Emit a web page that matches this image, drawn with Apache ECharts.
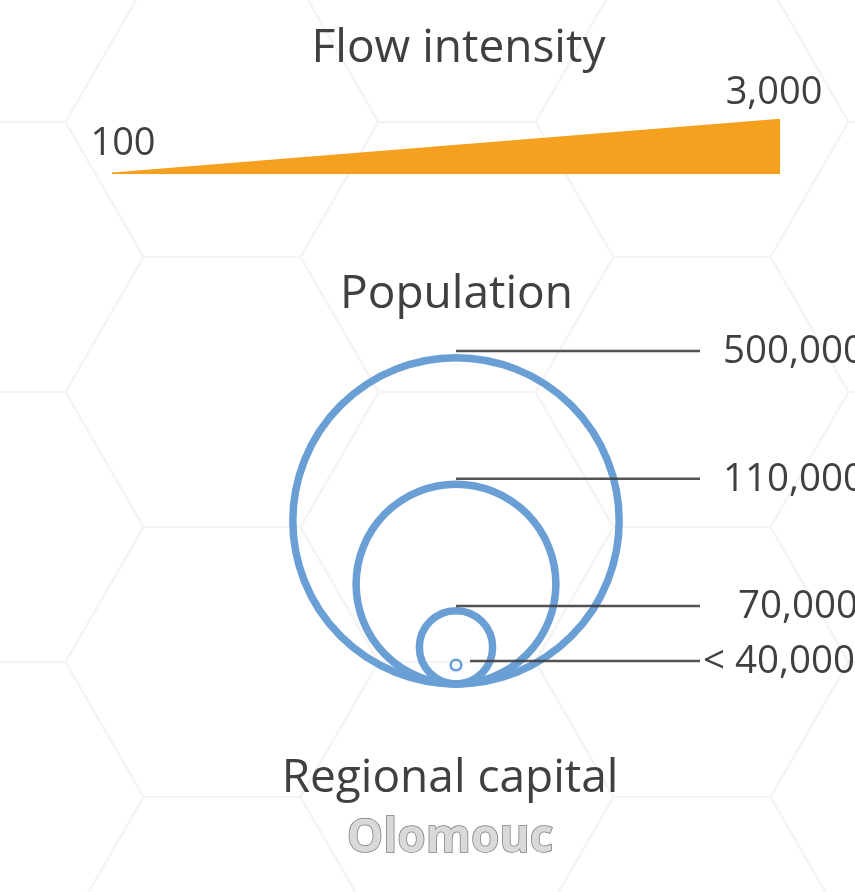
<!DOCTYPE html>
<html>
<head>
<meta charset="utf-8">
<script src="https://cdn.jsdelivr.net/npm/echarts@6/dist/echarts.min.js"></script>
<style>
html,body{margin:0;padding:0;background:#fff;}
#chart{width:855px;height:892px;}
</style>
</head>
<body>
<div id="chart"></div>
<script>
// ---- data ----
const flowTitle = 'Flow intensity';
const flowValues = [100, 3000];          // wedge thickness at each end
const flowPositions = [0, 1];            // start / end of the legend wedge
const popTitle = 'Population';
const popLabels = ['500,000', '110,000', '70,000', '< 40,000'];
const popCircleRadius = [49, 30.0, 11.0, 1.6];   // legend units (y scale)
const popCircleCenter = [49, 30.0, 11.0, 5.7];   // legend units (y scale)
const popLineLevel = [100, 61.6, 23.4, 6.9];     // leader line levels
const capitalTitle = 'Regional capital';
const capitalName = 'Olomouc';

// ---- styles ----
const FONT = "'Open Sans', sans-serif";
const TEXT = '#404040';
const ORANGE = '#F5A01F';
const BLUE = '#699FD5';
const flowLabelOffset = [[11, -28], [-6, -26]];
const popLabelGap = [23, 23, 38, 3];

// hexagon background grid (decoration)
const hexes = [];
const s = 156, h = 270;
for (let k = 0; k < 5; k++) {
  const xc = -13 + 235 * k;
  const y0 = (k % 2 === 0) ? 257 : 392;
  for (let n = -2; n < 5; n++) {
    const yc = y0 + h * n;
    hexes.push({
      type: 'polygon', silent: true, z: 0,
      shape: { points: [[xc - s, yc], [xc - s / 2, yc - h / 2], [xc + s / 2, yc - h / 2], [xc + s, yc], [xc + s / 2, yc + h / 2], [xc - s / 2, yc + h / 2]] },
      style: { fill: 'none', stroke: '#f4f4f4', lineWidth: 1.5 }
    });
  }
}

function title(text, x, y, extra) {
  return {
    type: 'text', x: x, y: y, z: 10, silent: true,
    style: Object.assign({ text: text, fontSize: 46, fontFamily: FONT, fill: TEXT, align: 'center', verticalAlign: 'middle' }, extra || {})
  };
}

const chart = echarts.init(document.getElementById('chart'), null, { renderer: 'canvas' });
chart.setOption({
  animation: false,
  backgroundColor: '#fff',
  grid: [
    { left: 112, width: 668, top: 118.7, height: 55.6 },
    { left: 456, width: 244, top: 351, height: 333 }
  ],
  xAxis: [
    { gridIndex: 0, type: 'value', min: 0, max: 1, show: false },
    { gridIndex: 1, type: 'value', min: 0, max: 100, show: false }
  ],
  yAxis: [
    { gridIndex: 0, type: 'value', min: 0, max: 3000, show: false },
    { gridIndex: 1, type: 'value', min: 0, max: 100, show: false }
  ],
  graphic: hexes.concat([
    title(flowTitle, 458.5, 48.5),
    title(popTitle, 456.5, 295),
    title(capitalTitle, 450, 779),
    title(capitalName, 450, 839, { fontWeight: 'bold', fontSize: 46, fill: '#d9d9d9', stroke: '#7a7a7a', lineWidth: 1.5 })
  ]),
  series: [
    {
      type: 'line', xAxisIndex: 0, yAxisIndex: 0,
      data: flowPositions.map((p, i) => [p, flowValues[i]]),
      showSymbol: false, symbol: 'none',
      lineStyle: { width: 0 },
      areaStyle: { color: ORANGE, opacity: 1 },
      silent: true
    },
    {
      type: 'custom', xAxisIndex: 0, yAxisIndex: 0,
      silent: true,
      data: flowPositions.map((p, i) => [p, flowValues[i], i]),
      renderItem: function (params, api) {
        const i = api.value(2);
        const pt = api.coord([api.value(0), api.value(1)]);
        return {
          type: 'text', x: pt[0] + flowLabelOffset[i][0], y: pt[1] + flowLabelOffset[i][1],
          style: { text: api.value(1).toLocaleString('en-US'), fontSize: 38, fontFamily: FONT, fill: TEXT, align: 'center', verticalAlign: 'middle' }
        };
      }
    },
    {
      type: 'custom', xAxisIndex: 1, yAxisIndex: 1,
      silent: true,
      data: popLabels.map((l, i) => [0, popCircleCenter[i], popCircleRadius[i], popLineLevel[i], i]),
      renderItem: function (params, api) {
        const i = api.value(4);
        const c = api.coord([0, api.value(1)]);
        const r = api.size([0, api.value(2)])[1];
        const ly = api.coord([0, api.value(3)])[1];
        const endX = api.coord([100, 0])[0];
        const small = r < 10;
        const startX = small ? c[0] + 14 : c[0];
        return {
          type: 'group',
          children: [
            { type: 'circle', shape: { cx: c[0], cy: c[1], r: r },
              style: { fill: 'none', stroke: BLUE, lineWidth: small ? 2.5 : 7.5 } },
            { type: 'line', shape: { x1: startX, y1: ly, x2: endX, y2: ly },
              style: { stroke: 'rgba(64,64,64,0.9)', lineWidth: 2.5 } },
            { type: 'text', x: endX + popLabelGap[i], y: ly + 1,
              style: { text: popLabels[i], fontSize: 38.5, fontFamily: FONT, fill: TEXT, align: 'left', verticalAlign: 'middle' } }
          ]
        };
      }
    }
  ]
});
</script>
</body>
</html>
